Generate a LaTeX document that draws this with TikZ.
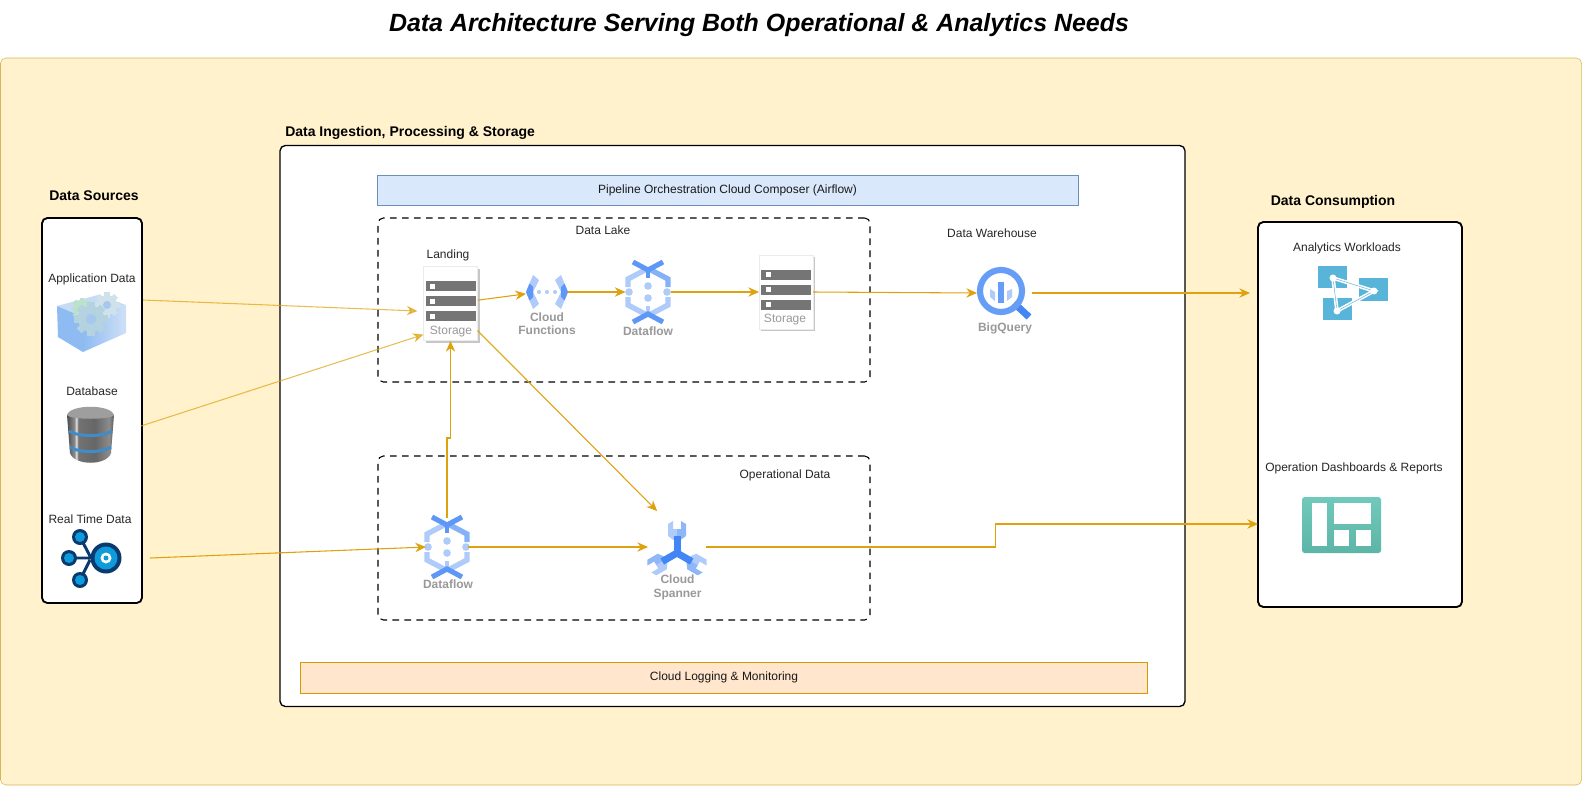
\documentclass[tikz,border=0pt]{standalone}
\usepackage{fontspec}
\setmainfont{Liberation Sans}
\usetikzlibrary{arrows.meta}

\definecolor{frameyellow}{HTML}{FFF2CC}
\definecolor{framegold}{HTML}{D6B656}
\definecolor{barblue}{HTML}{DAE8FC}
\definecolor{barblueline}{HTML}{6C8EBF}
\definecolor{barorange}{HTML}{FFE6CC}
\definecolor{barorangeline}{HTML}{D79B00}
\definecolor{flowgold}{HTML}{DFA20E}
\definecolor{gcplight}{HTML}{AECBFA}
\definecolor{gcpmid}{HTML}{8FB6F8}
\definecolor{gcpblue}{HTML}{669DF6}
\definecolor{gcpdark}{HTML}{4285F4}
\definecolor{iconlabel}{HTML}{999999}
\definecolor{rowgrey}{HTML}{757575}
\definecolor{navy}{HTML}{0B3A6E}
\definecolor{streamcyan}{HTML}{0E9BDC}
\definecolor{azurecyan}{HTML}{59B4D9}
\definecolor{dashteal}{HTML}{70C9BA}
\definecolor{dashtealdark}{HTML}{5DB5A7}
\definecolor{gearhole}{HTML}{A5C8EC}
\definecolor{gearpale}{HTML}{CFE2EC}
\definecolor{gearmid}{HTML}{B4D2E0}
\definecolor{geargreen}{HTML}{BDE2CC}
\definecolor{cubetop}{HTML}{C6DCF6}
\definecolor{cubeleft}{HTML}{8DBBF2}
\definecolor{cuberight}{HTML}{CFE0F6}
\definecolor{drumband}{HTML}{3F8CCB}

\pgfdeclarehorizontalshading{drumshade}{100bp}{color(0bp)=(black!70); color(25bp)=(black!70); color(33bp)=(black!45); color(35bp)=(black!10); color(37bp)=(black!55); color(55bp)=(black!60); color(70bp)=(black!45); color(75bp)=(black!65); color(100bp)=(black!65)}

\tikzset{
  sized/.style 2 args={minimum width=#1*0.75pt, minimum height=#2*0.75pt, inner sep=0pt, outer sep=0pt},
  panel/.style={draw=black, fill=white, line width=1.4pt, rounded corners=4pt},
  lakebox/.style={draw=black, line width=.8pt, dash pattern=on 5pt off 4pt, rounded corners=4pt},
  bartext/.style={font=\fontsize{9}{11}\selectfont, text=black!90},
  caption/.style={font=\fontsize{9}{11}\selectfont, text=black!85, inner sep=0pt},
  heading/.style={font=\bfseries\fontsize{10.5}{12}\selectfont, inner sep=0pt},
  iconname/.style={font=\bfseries\fontsize{9}{10}\selectfont, text=iconlabel, inner sep=0pt, align=center},
  storename/.style={font=\fontsize{9}{11}\selectfont, text=iconlabel, inner sep=0pt},
  flow/.style={draw=flowgold, line width=.8pt, -{Stealth[length=8pt, width=7pt]}},
  faint/.style={flow, draw opacity=.7, fill opacity=.7},
  pics/storageicon/.style={code={
    \fill[black!22] (-25,-35) rectangle (29,39);
    \fill[white, draw=black!8] (-27,-37) rectangle (27,37);
    \foreach \rowy in {-22,-7,8} {
      \fill[rowgrey] (-25,\rowy-.5) rectangle (25,\rowy+9.5);
      \fill[white] (-20.5,\rowy+2) rectangle (-15.5,\rowy+7);
    }
  }},
  pics/dataflowicon/.style={code={
    \draw[gcplight, line width=4pt] (-1,-23) -- (-20,-13) -- (-20,-5);
    \draw[gcplight, line width=4pt] (-1,23) -- (-20,13) -- (-20,5);
    \draw[gcpblue!80, line width=4pt] (1,-23) -- (20,-13) -- (20,-5);
    \draw[gcplight, line width=4pt] (1,23) -- (20,13) -- (20,5);
    \draw[gcpdark!85, line width=3.6pt] (0,-25) -- (0,-14);
    \draw[gcplight, line width=3.6pt] (0,25) -- (0,14);
    \draw[gcpdark!85, line width=3.8pt] (-15,-30) -- (0,-22) -- (15,-30);
    \draw[gcpdark!85, line width=3.8pt] (-15,30) -- (0,22) -- (15,30);
    \foreach \dotx/\doty in {-19/0, 19/0, 0/-6, 0/6}
      \fill[gcplight] (\dotx,\doty) circle[radius=3.8];
  }},
  pics/functionsicon/.style={code={
    \foreach \side in {-1,1} {
      \fill[gcplight] (\side*21,0) -- (\side*14,-17) -- (\side*8,-12) -- (\side*14,0) -- (\side*8,12) -- (\side*14,17) -- cycle;
      \fill[gcpdark!85] (\side*21,0) -- (\side*17.5,-8.5) -- (\side*14,-5) -- (\side*14,5) -- (\side*17.5,8.5) -- cycle;
    }
    \foreach \dotx in {-8,0,8}
      \fill[gcplight] (\dotx,0) circle[radius=2];
  }},
  pics/spannericon/.style={code={
    \foreach \turn in {0,120,240} {
      \fill[gcplight, rotate=\turn] (-9,-29) -- (-4,-32) -- (-4,-24) -- (0,-24) -- (0,-12) -- (-3.5,-13) -- (-9,-17) -- cycle;
      \fill[gcpmid, rotate=\turn] (9,-29) -- (4,-32) -- (4,-24) -- (0,-24) -- (0,-12) -- (3.5,-13) -- (9,-17) -- cycle;
    }
    \foreach \turn in {0,120,240}
      \fill[gcpdark, rotate=\turn] (-3.5,-17) rectangle (3.5,1);
  }},
  pics/bigqueryicon/.style={code={
    \draw[gcpdark, line width=5.2pt] (13,12) -- (28,26);
    \draw[gcpblue, line width=4.6pt] (0,0) circle[radius=21];
    \fill[gcplight] (-11,-2) -- (-6,1) -- (-6,10) -- (-11,6) -- cycle;
    \fill[gcplight] (6,0) -- (11,-2) -- (11,6) -- (6,10) -- cycle;
    \fill[gcpblue] (-3,-9) rectangle (3,12);
  }},
  pics/gearicon/.style 2 args={code={
    \foreach \turn in {0,45,...,315}
      \fill[#2, rotate=\turn] (-#1*.28,-#1*1.28) rectangle (#1*.28,0);
    \fill[#2] (0,0) circle[radius=#1];
    \fill[gearhole] (0,0) circle[radius=#1*.4];
  }},
}

\begin{document}
\begin{tikzpicture}[x=0.75pt, y=-0.75pt]
  \useasboundingbox (0,0) rectangle (1583,785);

  % Title and frames
  \node[font=\bfseries\itshape\fontsize{18.7}{22}\selectfont, inner sep=0pt] (title) at (759,25) {Data Architecture Serving Both Operational \& Analytics Needs};
  \node[sized={1581}{727}, draw=framegold, fill=frameyellow, rounded corners=4pt] (frame) at (791,421.5) {};

  \node[sized={905}{561}, panel, line width=1pt] (pipeline) at (732.5,426) {};
  \node[heading, anchor=west] (pipelinehead) at (285,133) {Data Ingestion, Processing \& Storage};
  \node[sized={701}{30}, draw=barblueline, fill=barblue, bartext] (composer) at (727.5,190) {Pipeline Orchestration Cloud Composer (Airflow)};
  \node[sized={847}{31}, draw=barorangeline, fill=barorange, bartext] (logging) at (724,677.5) {Cloud Logging \& Monitoring};
  \node[sized={492}{164}, lakebox] (lake) at (624,300) {};
  \node[caption] (lakehead) at (603,230) {Data Lake};
  \node[sized={492}{164}, lakebox] (operational) at (624,538) {};
  \node[caption] (operationalhead) at (785,475) {Operational Data};
  \node[caption] (warehousehead) at (992,233) {Data Warehouse};

  % Data sources
  \node[sized={100}{385}, panel] (sources) at (92,410.5) {};
  \node[heading] (sourceshead) at (94,196) {Data Sources};
  \node[caption] (appname) at (92,279) {Application Data};
  \node[caption] (dbname) at (92,391) {Database};
  \node[caption] (rtname) at (90,519) {Real Time Data};

  \fill[cubetop] (57,306) -- (98,295) -- (126,305) -- (83,317) -- cycle;
  \fill[cubeleft] (57,306) -- (83,317) -- (83,352) -- (58,337) -- cycle;
  \shade[left color=cubeleft, right color=cuberight] (83,317) -- (126,305) -- (126,333) -- (83,352) -- cycle;
  \pic at (107,305) {gearicon={10}{gearpale}};
  \pic at (82,309) {gearicon={8.5}{geargreen}};
  \pic at (91,319) {gearicon={13}{gearmid}};

  \shade[shading=drumshade] (67,415) -- (70,453) .. controls (74,466) and (107,466) .. (111,453) -- (114,415) -- cycle;
  \fill[black!38] (67,415) .. controls (70,404) and (111,404) .. (114,415) .. controls (111,420) and (70,420) .. cycle;
  \draw[drumband, line width=2.2pt] (69,431) .. controls (78,437) and (103,437) .. (112,431);
  \draw[drumband, line width=2.2pt] (70,447) .. controls (78,453) and (103,453) .. (111,447);

  \draw[navy, line width=2.2pt] (80,537) -- (90,556) -- (106,558) (69,558) -- (106,558) (80,580) -- (90,560);
  \foreach \hubx/\huby in {80/537, 69/558, 80/580} {
    \fill[navy] (\hubx,\huby) circle[radius=8];
    \fill[streamcyan] (\hubx,\huby) circle[radius=5];
  }
  \fill[navy] (106,558) circle[radius=15.5];
  \fill[streamcyan] (106,558) circle[radius=11.5];
  \fill[white] (106,558) circle[radius=5.5];
  \fill[streamcyan] (106,558) circle[radius=2.5];

  % Data lake icons
  \node[caption] (landinghead) at (448,255) {Landing};
  \node[sized={54}{75}] (landing) at (450.5,303.5) {};
  \pic at (landing) {storageicon};
  \node[storename] (landingname) at (451,332) {Storage};

  \node[sized={42}{34}] (functions) at (547,292) {};
  \pic at (functions) {functionsicon};
  \node[iconname] (functionsname) at (547,323.5) {Cloud\\Functions};

  \node[sized={45}{60}] (lakeflow) at (648,292) {};
  \pic at (lakeflow) {dataflowicon};
  \node[iconname] (lakeflowname) at (648,331) {Dataflow};

  \node[sized={54}{74}] (curated) at (786,292) {};
  \pic at (curated) {storageicon};
  \node[storename] (curatedname) at (785,320) {Storage};

  \node[sized={55}{52}] (bigquery) at (1004.5,293) {};
  \pic at (1001,291) {bigqueryicon};
  \node[iconname] (bigqueryname) at (1005,328) {BigQuery};

  % Operational icons
  \node[sized={42}{59}] (opsflow) at (447,547) {};
  \pic at (opsflow) {dataflowicon};
  \node[iconname] (opsflowname) at (448,584) {Dataflow};

  \node[sized={58}{52}] (spanner) at (677,547) {};
  \pic at (677,553) {spannericon};
  \node[iconname] (spannername) at (677.5,587.5) {Cloud\\Spanner};

  % Data consumption
  \node[sized={204}{385}, panel] (consumption) at (1360,414.5) {};
  \node[heading] (consumptionhead) at (1333,202) {Data Consumption};
  \node[caption] (analyticsname) at (1347,248) {Analytics Workloads};
  \node[caption] (dashname) at (1354,468) {Operation Dashboards \& Reports};

  \fill[azurecyan] (1318,266) rectangle (1347,288);
  \fill[azurecyan] (1359,278) rectangle (1388,301);
  \fill[azurecyan] (1323,298) rectangle (1352,320);
  \draw[white, line width=1.2pt, double=azurecyan, double distance=.35pt] (1333,278) -- (1374,291) -- (1337,311) -- cycle;
  \foreach \knotx/\knoty in {1333/278, 1374/291, 1337/311}
    \fill[white] (\knotx,\knoty) circle[radius=3.5];

  \shade[top color=dashteal, bottom color=dashtealdark, rounded corners=2pt] (1302,497) rectangle (1381,553);
  \fill[white] (1312,503) rectangle (1327,546);
  \fill[white] (1334,503) rectangle (1371,524);
  \fill[white] (1334,530) rectangle (1349,546);
  \fill[white] (1356,530) rectangle (1371,546);

  % Arrows
  \coordinate (appout) at (143,300);
  \coordinate (dbout) at (141,426);
  \coordinate (rtout) at (150,558);
  \coordinate (upjog) at (450.5,438);
  \coordinate (dashjog) at (995.5,524);

  \draw[faint, shorten >=4.5pt] (appout) -- (landing.196);
  \draw[faint] (dbout) -- (landing.229);
  \draw[flow] (rtout) -- (opsflow.west);
  \draw[flow] (landing.7) -- (functions.185);
  \draw[flow] (functions.east) -- (lakeflow.west);
  \draw[flow] (lakeflow.east) -- (curated.west);
  \draw[flow] (curated.east) -- (bigquery.west);
  \draw[flow, shorten >=6pt] (bigquery.east) -- (bigquery.east -| consumption.west);
  \draw[flow, shorten >=10.5pt] (landing.315) -- (spanner.111);
  \draw[flow] (opsflow.north) |- (upjog) -- (landing.south);
  \draw[flow] (opsflow.east) -- (spanner.west);
  \draw[flow] (spanner.east) -| (dashjog) -- (dashjog -| consumption.west);
\end{tikzpicture}
\end{document}
